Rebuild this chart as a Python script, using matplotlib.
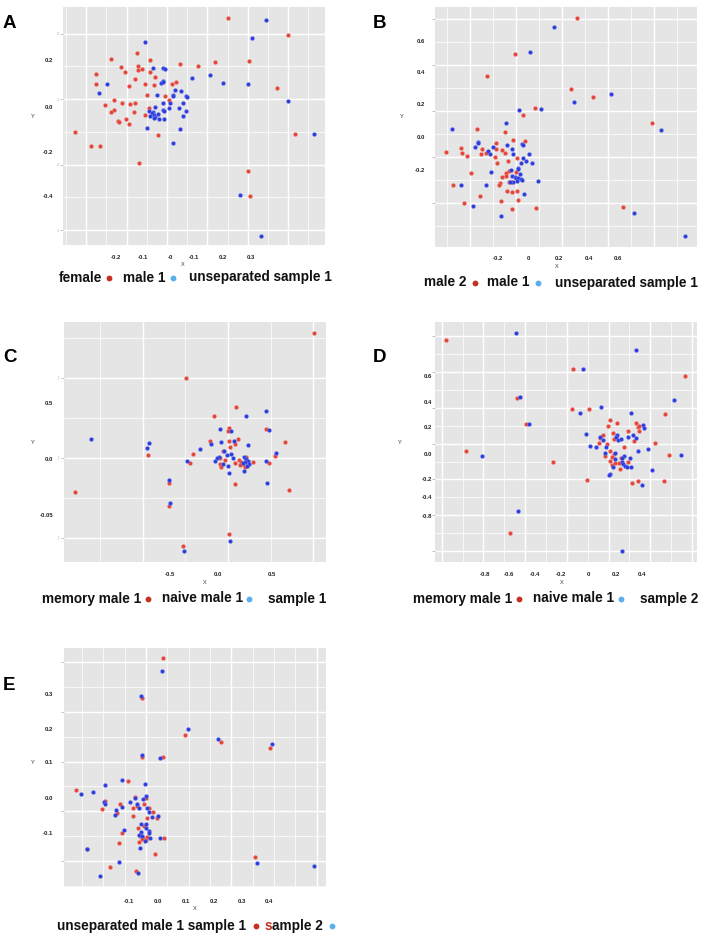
import matplotlib
matplotlib.use('Agg')
import matplotlib.pyplot as plt
from matplotlib import transforms
import numpy as np

plt.rcParams['font.family'] = ['Liberation Sans', 'DejaVu Sans']

# ---------------- DATA ----------------
A_red = [(0.215,0.397),(0.438,0.321),(-0.121,0.243),(-0.217,0.215),(-0.074,0.209),(0.293,0.206),(0.165,0.200),
         (0.036,0.194),(0.104,0.185),(-0.183,0.178),(-0.120,0.182),(-0.119,0.166),(-0.104,0.171),(-0.167,0.157),
         (-0.074,0.159),(-0.273,0.150),(-0.054,0.135),(-0.130,0.124),(0.021,0.115),(-0.093,0.106),(-0.059,0.101),
         (-0.275,0.103),(0.007,0.103),(-0.151,0.094),(0.395,0.085),(-0.085,0.057),(-0.017,0.049),(-0.004,0.035),
         (-0.206,0.035),(-0.240,0.010),(-0.178,0.019),(-0.148,0.016),(-0.131,0.022),(-0.078,0.000),(-0.209,-0.012),
         (-0.217,-0.021),(-0.132,-0.019),(-0.093,-0.032),(-0.162,-0.049),(-0.193,-0.060),(-0.189,-0.063),(-0.151,-0.071),
         (-0.352,-0.106),(-0.046,-0.122),(0.462,-0.118),(-0.293,-0.169),(-0.259,-0.172),(-0.115,-0.246),(0.289,-0.282),
         (0.295,-0.390)]
A_blue = [(0.356,0.388),(0.304,0.309),(-0.091,0.291),(-0.062,0.175),(-0.025,0.176),(-0.017,0.172),(0.146,0.144),
          (0.081,0.129),(0.195,0.110),(0.290,0.104),(-0.232,0.104),(-0.028,0.118),(-0.033,0.109),(-0.026,0.112),
          (-0.264,0.066),(0.019,0.079),(0.042,0.072),(-0.048,0.056),(0.009,0.057),(0.012,0.051),(0.059,0.051),
          (0.064,0.046),(0.438,0.031),(0.001,0.019),(-0.026,0.021),(-0.054,0.004),(0.046,0.018),(-0.005,0.000),
          (0.032,-0.003),(-0.025,-0.012),(0.058,-0.015),(-0.023,-0.016),(-0.078,-0.016),(-0.063,-0.019),(-0.067,-0.026),
          (-0.044,-0.029),(-0.074,-0.037),(-0.059,-0.034),(-0.054,-0.043),(-0.058,-0.047),(-0.040,-0.049),(-0.023,-0.049),
          (0.047,-0.038),(-0.086,-0.091),(0.036,-0.094),(0.011,-0.156),(0.532,-0.115),(0.257,-0.384),(0.338,-0.566)]

B_red = [(0.318,0.742),(-0.089,0.515),(-0.280,0.379),(0.280,0.303),(0.429,0.252),(0.042,0.184),(-0.036,0.138),
         (0.820,0.089),(-0.347,0.052),(-0.156,0.037),(-0.104,-0.014),(-0.024,-0.021),(-0.551,-0.087),(-0.449,-0.064),
         (-0.447,-0.097),(-0.411,-0.115),(-0.309,-0.072),(-0.318,-0.103),(-0.284,-0.095),(-0.216,-0.033),(-0.218,-0.070),
         (-0.180,-0.076),(-0.158,-0.095),(-0.227,-0.118),(-0.076,-0.124),(-0.211,-0.159),(-0.140,-0.142),(-0.382,-0.219),
         (-0.084,-0.212),(-0.133,-0.208),(-0.151,-0.221),(-0.180,-0.241),(-0.153,-0.239),(-0.129,-0.274),(-0.111,-0.276),
         (-0.191,-0.280),(-0.200,-0.295),(-0.507,-0.291),(-0.147,-0.328),(-0.076,-0.328),(-0.113,-0.338),(-0.327,-0.361),
         (-0.429,-0.402),(-0.182,-0.390),(-0.073,-0.386),(-0.111,-0.439),(0.049,-0.433),(0.627,-0.427)]
B_blue = [(0.169,0.685),(0.007,0.532),(0.547,0.270),(0.300,0.223),(-0.062,0.173),(0.080,0.175),(-0.513,0.052),
          (0.880,0.045),(-0.151,0.089),(-0.336,-0.029),(-0.340,-0.035),(-0.356,-0.060),(-0.236,-0.058),(-0.269,-0.082),
          (-0.258,-0.103),(-0.142,-0.045),(-0.047,-0.037),(-0.040,-0.043),(-0.109,-0.072),(-0.107,-0.101),(0.000,-0.101),
          (-0.036,-0.124),(-0.018,-0.142),(0.024,-0.159),(-0.051,-0.159),(-0.069,-0.186),(-0.073,-0.196),(-0.118,-0.202),
          (-0.056,-0.225),(-0.113,-0.239),(-0.093,-0.243),(-0.082,-0.252),(-0.069,-0.247),(-0.053,-0.258),(-0.047,-0.264),
          (-0.080,-0.270),(-0.104,-0.272),(-0.127,-0.276),(-0.251,-0.214),(-0.451,-0.291),(-0.287,-0.291),(0.064,-0.270),
          (-0.033,-0.346),(-0.369,-0.423),(-0.187,-0.487),(0.700,-0.466),(1.040,-0.606)]

C_red = [(0.922,1.135),(-0.333,0.728),(0.160,0.470),(-0.056,0.386),(0.088,0.281),(0.078,0.251),(0.448,0.275),
         (-0.095,0.162),(0.085,0.165),(0.173,0.186),(0.147,0.141),(0.098,0.114),(0.637,0.156),(0.029,0.078),
         (-0.703,0.042),(-0.268,0.045),(0.539,0.027),(0.258,0.018),(0.052,-0.009),(0.003,0.015),(-0.297,-0.036),
         (0.000,-0.039),(0.007,-0.072),(0.150,-0.036),(0.186,-0.003),(0.209,-0.021),(0.229,-0.042),(0.268,-0.057),
         (0.327,-0.021),(0.480,-0.030),(0.199,-0.051),(0.245,-0.066),(0.147,-0.219),(0.680,-0.272),(-1.418,-0.293),
         (-0.497,-0.210),(-0.503,-0.422),(0.085,-0.674),(-0.366,-0.781)]
C_blue = [(-1.261,0.183),(-0.699,0.147),(-0.712,0.099),(0.255,0.389),(0.448,0.431),(-0.003,0.269),(0.108,0.251),
          (0.484,0.263),(-0.085,0.135),(0.010,0.156),(0.134,0.165),(0.271,0.129),(-0.199,0.090),(0.039,0.078),
          (0.108,0.051),(0.065,0.036),(0.552,0.060),(-0.013,0.018),(-0.029,0.009),(-0.052,-0.012),(0.131,0.009),
          (0.239,0.018),(0.258,0.000),(0.275,-0.012),(0.248,-0.027),(0.284,-0.042),(0.261,-0.057),(0.222,-0.033),
          (0.448,-0.012),(-0.320,-0.015),(0.026,-0.045),(0.075,-0.057),(0.239,-0.105),(0.092,-0.126),(0.461,-0.216),
          (-0.497,-0.186),(-0.490,-0.389),(0.101,-0.737),(-0.356,-0.823)]

D_red = [(-1.089,0.877),(-0.120,0.654),(0.730,0.605),(-0.545,0.433),(-0.130,0.346),(-0.003,0.351),(0.580,0.313),
         (0.163,0.267),(0.216,0.244),(-0.476,0.233),(0.142,0.221),(0.361,0.244),(0.372,0.210),(0.384,0.215),
         (0.298,0.177),(0.382,0.177),(0.183,0.164),(0.109,0.146),(0.087,0.123),(0.193,0.121),(0.346,0.105),
         (0.074,0.090),(0.135,0.082),(0.506,0.090),(0.270,0.056),(-0.936,0.026),(0.158,0.023),(0.613,-0.003),
         (0.122,-0.015),(0.188,0.000),(0.178,-0.021),(-0.270,-0.059),(0.163,-0.054),(0.201,-0.067),(0.229,-0.064),
         (0.244,-0.031),(0.298,-0.056),(0.173,-0.085),(0.234,-0.110),(-0.018,-0.200),(0.328,-0.218),(0.374,-0.208),
         (0.570,-0.203),(-0.598,-0.605)]
D_blue = [(-0.552,0.933),(0.356,0.805),(-0.048,0.656),(0.646,0.421),(-0.527,0.444),(0.092,0.364),(-0.071,0.321),
          (0.323,0.318),(-0.458,0.233),(0.410,0.228),(0.422,0.203),(0.336,0.151),(-0.020,0.159),(0.081,0.136),
          (0.214,0.146),(0.206,0.133),(0.221,0.113),(0.247,0.118),(0.300,0.133),(0.356,0.128),(0.104,0.113),
          (0.130,0.056),(0.005,0.067),(0.053,0.056),(0.450,0.038),(0.377,0.028),(0.120,0.013),(0.198,0.013),
          (0.270,-0.010),(0.313,-0.026),(0.702,-0.005),(-0.812,-0.010),(0.254,-0.031),(0.198,-0.036),(0.249,-0.059),
          (0.260,-0.077),(0.272,-0.090),(0.290,-0.100),(0.323,-0.095),(0.183,-0.095),(0.163,-0.154),(0.153,-0.162),
          (0.483,-0.118),(0.407,-0.233),(-0.542,-0.436),(0.254,-0.744)]

E_red = [(0.019,0.403),(-0.056,0.289),(0.097,0.182),(0.224,0.164),(0.400,0.145),(-0.056,0.121),(0.018,0.121),
         (-0.105,0.052),(-0.293,0.025),(-0.189,-0.007),(-0.198,-0.030),(-0.135,-0.016),(-0.144,-0.041),(-0.081,0.005),
         (-0.043,0.002),(-0.087,-0.028),(-0.074,-0.022),(-0.049,-0.016),(-0.031,-0.027),(-0.017,-0.037),(-0.087,-0.051),
         (-0.038,-0.056),(-0.049,-0.078),(-0.069,-0.084),(-0.127,-0.099),(-0.004,-0.057),(-0.063,-0.108),(-0.051,-0.113),
         (-0.039,-0.110),(-0.056,-0.115),(-0.067,-0.125),(0.024,-0.113),(-0.043,-0.118),(-0.138,-0.128),(-0.252,-0.146),
         (-0.011,-0.160),(0.346,-0.167),(-0.170,-0.196),(-0.078,-0.209)]
E_blue = [(0.015,0.367),(-0.059,0.295),(0.107,0.199),(0.216,0.170),(0.409,0.158),(-0.055,0.125),(0.007,0.118),
          (-0.188,0.038),(-0.128,0.054),(-0.045,0.041),(-0.272,0.013),(-0.231,0.019),(-0.192,-0.009),(-0.188,-0.014),
          (-0.128,-0.024),(-0.097,-0.011),(-0.080,0.002),(-0.075,-0.014),(-0.065,-0.027),(-0.042,0.008),(-0.051,0.000),
          (-0.038,-0.027),(-0.032,-0.037),(-0.021,-0.053),(0.001,-0.049),(-0.147,-0.032),(-0.152,-0.046),(-0.058,-0.072),
          (-0.042,-0.074),(-0.042,-0.085),(-0.120,-0.089),(-0.058,-0.096),(-0.032,-0.093),(-0.032,-0.099),(-0.065,-0.104),
          (-0.056,-0.106),(-0.026,-0.114),(0.008,-0.113),(-0.044,-0.121),(-0.062,-0.141),(-0.253,-0.144),(-0.137,-0.182),
          (0.354,-0.184),(0.556,-0.194),(-0.207,-0.223),(-0.071,-0.213)]

# tick labels (text, value)
A_xticks = [("-0.2",-0.201),("-0.1",-0.100),("-0",0.0),("-0.1",0.088),("0.2",0.196),("0.3",0.299)]
A_yticks = [("0.2",0.209),("0.0",0.0),("-0.2",-0.197),("-0.4",-0.391)]
B_xticks = [("-0.2",-0.207),("0",0.0),("0.2",0.200),("0.4",0.398),("0.6",0.593)]
B_yticks = [("0.6",0.596),("0.4",0.400),("0.2",0.204),("0.0",0.0),("-0.2",-0.206)]
C_xticks = [("-0.5",-0.493),("0.0",-0.016),("0.5",0.507)]
C_yticks = [("0.5",0.500),("0.0",0.0),("-0.05",-0.503)]
D_xticks = [("-0.8",-0.796),("-0.6",-0.606),("-0.4",-0.410),("-0.2",-0.211),("0",0.0),("0.2",0.204),("0.4",0.405)]
D_yticks = [("0.6",0.600),("0.4",0.400),("0.2",0.203),("0.0",0.0),("-0.2",-0.192),("-0.4",-0.331),("-0.8",-0.477)]
E_xticks = [("-0.1",-0.102),("0.0",0.001),("0.1",0.100),("0.2",0.201),("0.3",0.302),("0.4",0.398)]
E_yticks = [("0.3",0.299),("0.2",0.198),("0.1",0.105),("0.0",-0.001),("-0.1",-0.101)]

A_legend = ["female", "male 1", "unseparated sample 1"]
B_legend = ["male 2", "male 1", "unseparated sample 1"]
C_legend = ["memory male 1", "naive male 1", "sample 1"]
D_legend = ["memory male 1", "naive male 1", "sample 2"]
E_legend = ["unseparated male 1 sample 1", "s", "ample 2"]

# ---------------- STYLE / LAYOUT ----------------
W, H = 707, 935
fig = plt.figure(figsize=(W/100, H/100), dpi=100)
fig.patch.set_facecolor('white')

RED = '#e4433a'
BLUE = '#2b3bdc'
LRED = '#c5301f'
LBLUE = '#5aaeee'
BG = '#e5e5e5'

ovl = fig.add_axes([0, 0, 1, 1], zorder=10)
ovl.set_xlim(0, W); ovl.set_ylim(H, 0); ovl.axis('off')
ovl.patch.set_alpha(0)

def make_panel(box, xlim, ylim, xgrid, ygrid, xminor_div, red, blue, xt, yt,
               xt_off, yt_off, xlab_px, ylab_px, faint):
    l, t, r, b = box
    ax = fig.add_axes([l/W, 1-b/H, (r-l)/W, (b-t)/H])
    ax.set_facecolor(BG)
    ax.set_xlim(*xlim); ax.set_ylim(*ylim)
    x0, xs = xgrid; y0, ys = ygrid
    xmaj = [v for v in np.arange(x0 - 10*xs, xlim[1], xs) if xlim[0] < v < xlim[1]]
    xmin_ = [v for v in np.arange(x0 - 10*xs, xlim[1], xs/xminor_div) if xlim[0] < v < xlim[1]]
    ymaj = [v for v in np.arange(y0 - 10*ys, ylim[1], ys) if ylim[0] < v < ylim[1]]
    ymin_ = [v for v in np.arange(y0 - 10*ys, ylim[1], ys/2) if ylim[0] < v < ylim[1]]
    ax.set_xticks(xmaj); ax.set_xticks(xmin_, minor=True)
    ax.set_yticks(ymaj); ax.set_yticks(ymin_, minor=True)
    ax.grid(which='major', color='white', lw=1.0)
    ax.grid(which='minor', color='white', lw=0.5)
    ax.set_axisbelow(True)
    for s in ax.spines.values():
        s.set_visible(False)
    ax.tick_params(axis='x', which='both', length=0, labelbottom=False)
    ax.tick_params(axis='y', which='minor', length=0)
    ax.tick_params(axis='y', which='major', length=2, width=0.5, color='#aaaaaa',
                   labelsize=3, labelcolor='#aaaaaa', pad=1)
    if faint:
        ax.set_yticklabels(faint[:len(ymaj)])
    else:
        ax.set_yticklabels([''] * len(ymaj))
    rx, ry = zip(*red)
    bx, by = zip(*blue)
    ax.scatter(rx, ry, s=8, c=RED, linewidths=0.3, edgecolors='#f08a80', zorder=3)
    ax.scatter(bx, by, s=8, c=BLUE, linewidths=0.3, edgecolors='#7d88ee', zorder=4)
    trx = transforms.offset_copy(ax.get_xaxis_transform(), fig=fig, y=-xt_off, units='dots')
    for lab, v in xt:
        ax.text(v, 0, lab, transform=trx, ha='center', va='center', fontsize=4.3,
                fontweight='bold', color='#222222')
    tr_y = transforms.offset_copy(ax.get_yaxis_transform(), fig=fig, x=-yt_off, units='dots')
    for lab, v in yt:
        ax.text(0, v, lab, transform=tr_y, ha='right', va='center', fontsize=4.3,
                fontweight='bold', color='#222222')
    ovl.text(xlab_px[0], xlab_px[1], 'X', fontsize=4, ha='center', va='center', color='#333333')
    ovl.text(ylab_px[0], ylab_px[1], 'Y', fontsize=4, ha='center', va='center', color='#333333')
    return ax

panels = [
    dict(box=(63, 7, 325, 245), xlim=(-0.396, 0.573), ylim=(-0.607, 0.444),
         xgrid=(-0.310, 0.1494), ygrid=(-0.541, 0.289), xminor_div=2, red=A_red, blue=A_blue,
         xt=A_xticks, yt=A_yticks, xt_off=13, yt_off=10, xlab_px=(183, 265), ylab_px=(33, 117),
         faint=['1', '2', '1', '2']),
    dict(box=(435, 7, 697, 247), xlim=(-0.624, 1.12), ylim=(-0.676, 0.808),
         xgrid=(-0.391, 0.3055), ygrid=(-0.404, 0.285), xminor_div=2, red=B_red, blue=B_blue,
         xt=B_xticks, yt=B_yticks, xt_off=12, yt_off=10, xlab_px=(557, 267), ylab_px=(402, 117),
         faint=None),
    dict(box=(64, 322, 326, 562), xlim=(-1.529, 1.039), ylim=(-0.922, 1.234),
         xgrid=(-0.758, 0.8365), ygrid=(-0.704, 0.719), xminor_div=2, red=C_red, blue=C_blue,
         xt=C_xticks, yt=C_yticks, xt_off=13, yt_off=11, xlab_px=(205, 582), ylab_px=(33, 443),
         faint=[')', ')', ')']),
    dict(box=(435, 322, 697, 562), xlim=(-1.173, 0.824), ylim=(-0.828, 1.018),
         xgrid=(-1.122, 0.318), ygrid=(-0.744, 0.2753), xminor_div=2, red=D_red, blue=D_blue,
         xt=D_xticks, yt=D_yticks, xt_off=13, yt_off=3, xlab_px=(562, 582), ylab_px=(400, 443),
         faint=None),
    dict(box=(64, 648, 326, 887), xlim=(-0.334, 0.600), ylim=(-0.254, 0.433),
         xgrid=(-0.0416, 0.304), ygrid=(-0.179, 0.1427), xminor_div=4, red=E_red, blue=E_blue,
         xt=E_xticks, yt=E_yticks, xt_off=14.5, yt_off=11, xlab_px=(195, 908), ylab_px=(33, 763),
         faint=None),
]

for p in panels:
    make_panel(**p)

# panel letters
for letter, x, yb in [('A', 3, 28), ('B', 373, 28), ('C', 3, 362), ('D', 373, 362), ('E', 3, 690)]:
    ovl.text(x, yb, letter, fontsize=13.5, fontweight='bold', ha='left', va='baseline', color='black')

LFS = 9.8
def legend_line(labels, xs, dots, yb, yd):
    for lab, x in zip(labels, xs):
        ovl.text(x, yb, lab, fontsize=LFS, fontweight='bold', ha='left', va='baseline', color='#111111')
    for x, c in dots:
        ovl.plot([x], [yd], marker='o', ms=4.2, color=c, mec='none')

legend_line(A_legend, [58.3, 122.7, 189.3], [(109, LRED), (173, LBLUE)], 281.5, 277.5)
legend_line(B_legend, [424, 487.3, 555], [(475, LRED), (538.3, LBLUE)], 286.5, 282.5)
legend_line(C_legend, [41.7, 161.7, 268.3], [(147.7, LRED), (249.3, LBLUE)], 602.5, 599)
legend_line(D_legend, [413, 533, 639.6], [(519, LRED), (620.6, LBLUE)], 602.5, 599)
# E legend: red "s"
ovl.text(56.7, 930, E_legend[0], fontsize=LFS, fontweight='bold', ha='left', va='baseline', color='#111111')
ts = ovl.text(265, 930, E_legend[1], fontsize=LFS, fontweight='bold', ha='left', va='baseline', color=LRED)
fig.canvas.draw()
bb = ts.get_window_extent()
ovl.text(bb.x1, H - 930, E_legend[2], fontsize=LFS, fontweight='bold', ha='left', va='baseline',
         color='#111111', transform=None)
ovl.plot([256], [926], marker='o', ms=4.2, color=LRED, mec='none')
ovl.plot([331.7], [926], marker='o', ms=4.2, color=LBLUE, mec='none')

fig.savefig('out.png', dpi=100, facecolor='white')
